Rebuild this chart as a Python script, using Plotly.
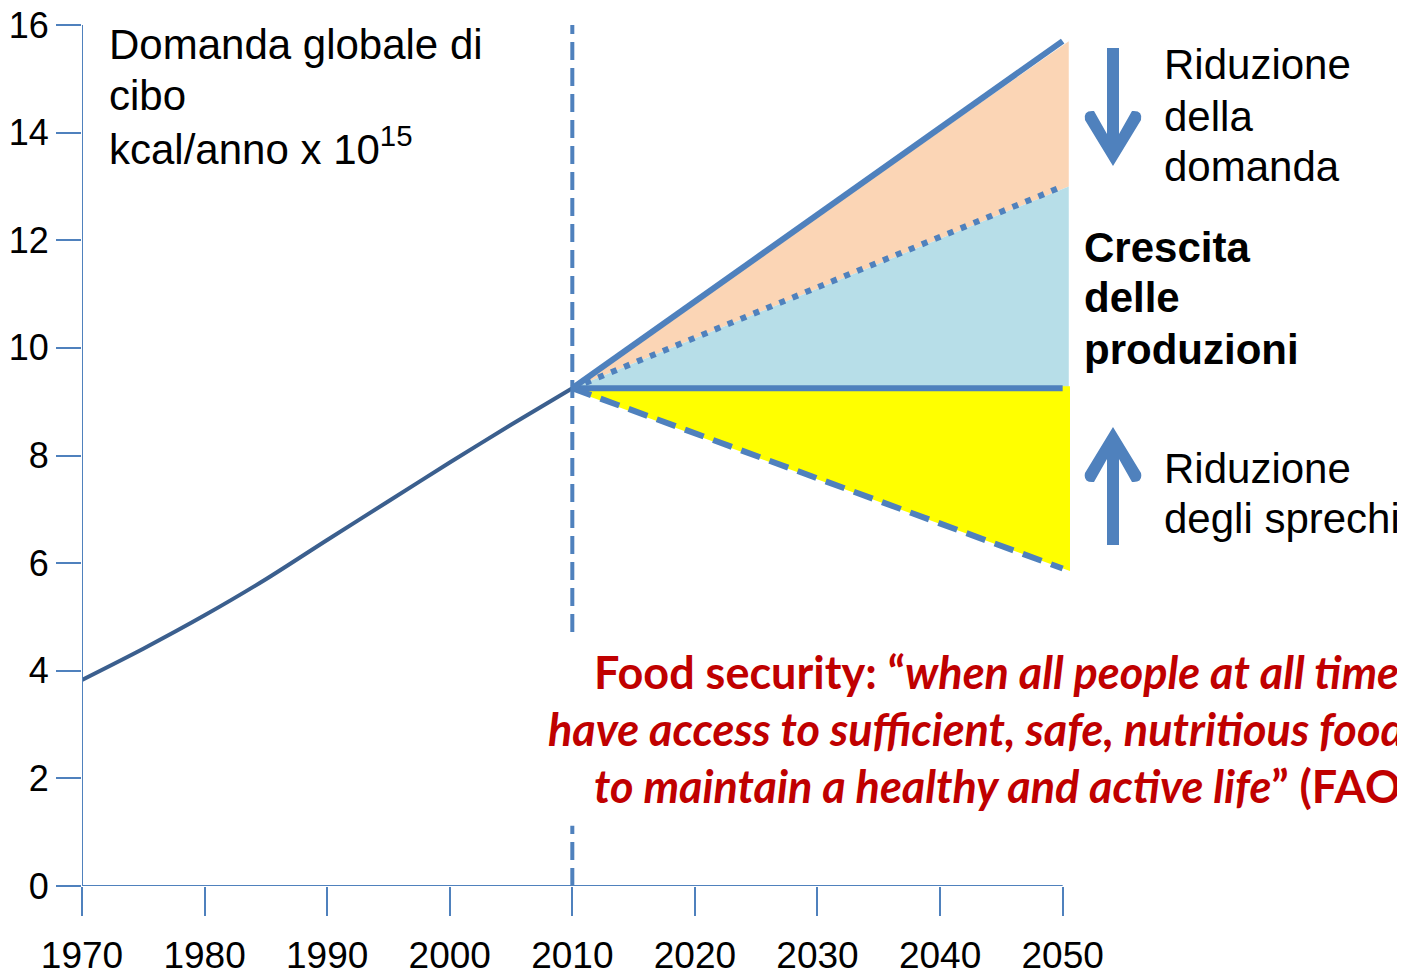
import plotly.graph_objects as go

# ---------------- data ----------------
years_hist = [1970, 1975, 1980, 1985, 1990, 1995, 2000, 2005, 2010]
demand_hist = [3.83, 4.41, 5.03, 5.70, 6.43, 7.15, 7.87, 8.57, 9.25]

proj_years = [2010, 2050]
demand_trend = [9.25, 15.7]      # domanda tendenziale
demand_reduced = [9.25, 13.0]    # riduzione della domanda
production_base = [9.25, 9.25]   # produzione costante
waste_reduced = [9.25, 5.9]      # riduzione degli sprechi

x_ticks = [1970, 1980, 1990, 2000, 2010, 2020, 2030, 2040, 2050]
y_ticks = [0, 2, 4, 6, 8, 10, 12, 14, 16]

# ---------------- styling / layout ----------------
OFF = 8  # page body margin of the html page
W, H = 1405 - OFF, 972 - OFF
L, T = 82 - OFF, 25 - OFF
B = H - (886 - OFF)
R = W - (1070 - OFF)
PW, PH = W - L - R, H - T - B
X_RANGE = [1970, 2050.6]
FILL_END = 2050.5
BLUE = "#4F81BD"
DARK = "#3B5F8E"


def px(x):
    return (x - OFF - L) / PW


def py(y):
    return (H - B - (y - OFF)) / PH


fig = go.Figure()


def poly(top, bottom, color, line=None):
    xs = [proj_years[0], FILL_END, FILL_END, proj_years[0]]
    ys = [top[0], top[1], bottom[1], bottom[0]]
    fig.add_trace(go.Scatter(
        x=xs, y=ys, fill="toself", fillcolor=color, mode="lines",
        line=dict(width=line[1] if line else 0, color=line[0] if line else color),
        hoverinfo="skip", showlegend=False))


poly(demand_trend, demand_reduced, "#FBD5B5")
poly(demand_reduced, production_base, "#B7DEE8")
poly(production_base, waste_reduced, "#FFFF00", line=("#FFFF00", 4))

fig.add_trace(go.Scatter(x=years_hist, y=demand_hist, mode="lines",
                         line=dict(color=DARK, width=4, shape="spline", smoothing=0.8),
                         hoverinfo="skip", showlegend=False))
fig.add_trace(go.Scatter(x=proj_years, y=production_base, mode="lines",
                         line=dict(color=BLUE, width=6), hoverinfo="skip", showlegend=False))
fig.add_trace(go.Scatter(x=proj_years, y=waste_reduced, mode="lines",
                         line=dict(color=BLUE, width=6, dash="20px,10px"),
                         hoverinfo="skip", showlegend=False))
fig.add_trace(go.Scatter(x=proj_years, y=demand_reduced, mode="lines",
                         line=dict(color=BLUE, width=6, dash="6px,8px"),
                         hoverinfo="skip", showlegend=False))
fig.add_trace(go.Scatter(x=proj_years, y=demand_trend, mode="lines",
                         line=dict(color=BLUE, width=6), hoverinfo="skip", showlegend=False))

shapes = []
# axis lines
shapes.append(dict(type="line", xref="x", yref="y", x0=x_ticks[0], x1=x_ticks[-1], y0=0, y1=0,
                   line=dict(color=BLUE, width=2)))
shapes.append(dict(type="line", xref="x", yref="y", x0=x_ticks[0], x1=x_ticks[0], y0=0, y1=y_ticks[-1],
                   line=dict(color=BLUE, width=2)))
# vertical dashed line at 2010 (interrupted by the text box)
for (a, b) in [(0, 1.12), (4.72, 16)]:
    shapes.append(dict(type="line", xref="x", yref="y", x0=2010, x1=2010, y0=a, y1=b,
                       line=dict(color=BLUE, width=4, dash="18px,8px")))


def arrow_path(pts_down, flip_axis=None):
    parts = []
    for p in pts_down:
        cmd = p[0]
        coords = p[1:]
        vals = []
        for j in range(0, len(coords), 2):
            X, Y = coords[j], coords[j + 1]
            if flip_axis is not None:
                Y = flip_axis - Y
            vals.append(f"{px(X):.5f},{py(Y):.5f}")
        parts.append(cmd + " " + " ".join(vals))
    return " ".join(parts) + " Z"


down = [
    ("M", 1113, 166),
    ("L", 1085, 120),
    ("Q", 1083, 110, 1094, 111),
    ("L", 1107, 134),
    ("L", 1107, 48),
    ("L", 1119, 48),
    ("L", 1119, 134),
    ("L", 1132, 111),
    ("Q", 1143, 110, 1141, 120),
]
shapes.append(dict(type="path", xref="paper", yref="paper", path=arrow_path(down),
                   fillcolor=BLUE, line=dict(width=0), layer="above"))
shapes.append(dict(type="path", xref="paper", yref="paper", path=arrow_path(down, flip_axis=593),
                   fillcolor=BLUE, line=dict(width=0), layer="above"))

annotations = []


def text_lines(lines, x, y0, dy, size, family="Arial", color="black", bold=False):
    for i, t in enumerate(lines):
        txt = f"<b>{t}</b>" if bold else t
        annotations.append(dict(text=txt, xref="paper", yref="paper", x=px(x), y=py(y0 + i * dy),
                                xanchor="left", yanchor="middle", showarrow=False,
                                font=dict(family=family, size=size, color=color)))


text_lines(["Domanda globale di", "cibo", "kcal/anno x 10<sup>15</sup>"], 107, 44, 51, 42)
text_lines(["Riduzione", "della", "domanda"], 1162, 65, 51, 42)
text_lines(["Crescita", "delle", "produzioni"], 1082, 247, 51, 42, bold=True)
text_lines(["Riduzione", "degli sprechi"], 1162, 468, 51, 42)

red = "#C00000"
red_lines = [
    (592, 672, "<b>Food security: “<i>when all people at all times</i></b>"),
    (546, 729, "<b><i>have access to sufficient, safe, nutritious food</i></b>"),
    (592, 786, "<b><i>to maintain a healthy and active life</i>” (FAO)</b>"),
]
for x, y, t in red_lines:
    annotations.append(dict(text=t, xref="paper", yref="paper", x=px(x), y=py(y),
                            xanchor="left", yanchor="middle", showarrow=False,
                            font=dict(family="Lato", size=45, color=red)))

fig.update_layout(
    width=W, height=H,
    margin=dict(l=L, r=R, t=T, b=B, autoexpand=False),
    paper_bgcolor="white", plot_bgcolor="white",
    showlegend=False,
    shapes=shapes,
    annotations=annotations,
    xaxis=dict(range=X_RANGE, tickvals=x_ticks, ticktext=[str(v) for v in x_ticks],
               showgrid=False, zeroline=False, showline=False, automargin=False,
               ticklabeloverflow="allow",
               ticks="outside", ticklen=29, tickwidth=2, tickcolor=BLUE,
               ticklabelstandoff=8,
               tickfont=dict(family="Arial", size=37, color="black")),
    yaxis=dict(range=[0, 16], tickvals=y_ticks, showgrid=False, zeroline=False, showline=False,
               automargin=False, ticklabeloverflow="allow",
               ticks="outside", ticklen=25, tickwidth=2, tickcolor=BLUE,
               tickfont=dict(family="Arial", size=36, color="black")),
)

fig.write_html("out.html", config={"displayModeBar": False})
